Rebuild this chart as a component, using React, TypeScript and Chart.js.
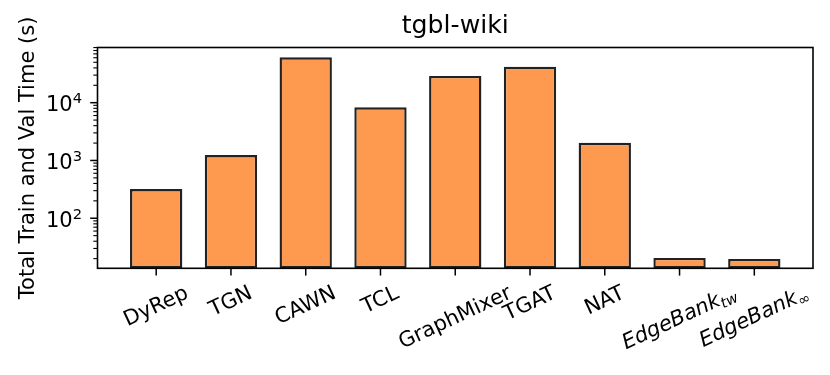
import { useEffect, useRef } from 'react';
import { Chart, registerables } from 'chart.js';

Chart.register(...registerables);

// ---- data ----
const categories = ['DyRep', 'TGN', 'CAWN', 'TCL', 'GraphMixer', 'TGAT', 'NAT', 'EdgeBank_{tw}', 'EdgeBank_{∞}'];
const times = [321, 1240, 61000, 8300, 29000, 42000, 2020, 20.6, 19.8];
const yMajorTicks = [100, 1000, 10000];
const yMajorExponents = ['2', '3', '4'];
const yMinorMantissas = [2, 3, 4, 5, 6, 7, 8, 9];
const yMinorDecades = [10, 100, 1000, 10000];
const yMin = 13.6;
const yMax = 90200;
const chartTitle = 'tgbl-wiki';
const yAxisTitle = 'Total Train and Val Time (s)';

const FONT = '"DejaVu Sans", "Liberation Sans", sans-serif';
const BASE = 21;

type Part = { text: string; size: number; italic: boolean; dy: number };

function parseLabel(label: string): Part[] {
  const m = label.match(/^(.*)_\{(.*)\}$/);
  if (m) {
    const sub = m[2];
    const subItalic = /[a-zA-Z]/.test(sub);
    return [
      { text: m[1], size: BASE, italic: true, dy: 0 },
      { text: sub, size: BASE * 0.7, italic: subItalic, dy: 4 },
    ];
  }
  return [{ text: label, size: BASE, italic: false, dy: 0 }];
}

const mplAxes = {
  id: 'mplAxes',
  afterDraw(chart: any) {
    const { ctx, chartArea: a, scales } = chart;
    const xs = scales.x;
    const ys = scales.y;
    ctx.save();
    ctx.strokeStyle = '#000';
    ctx.fillStyle = '#000';

    // frame
    ctx.lineWidth = 1.6;
    ctx.strokeRect(a.left, a.top, a.right - a.left, a.bottom - a.top);

    const majorLen = 7.3;
    const minorLen = 4.2;
    // x ticks
    ctx.lineWidth = 1.5;
    categories.forEach((_, i) => {
      const px = xs.getPixelForValue(i);
      ctx.beginPath();
      ctx.moveTo(px, a.bottom);
      ctx.lineTo(px, a.bottom + majorLen);
      ctx.stroke();
    });

    // y major ticks
    yMajorTicks.forEach((v) => {
      const py = ys.getPixelForValue(v);
      ctx.beginPath();
      ctx.moveTo(a.left, py);
      ctx.lineTo(a.left - majorLen, py);
      ctx.stroke();
    });
    // y minor ticks
    ctx.lineWidth = 1.1;
    yMinorDecades.forEach((d) => {
      yMinorMantissas.forEach((m) => {
        const v = m * d;
        if (v < yMin || v > yMax) return;
        const py = ys.getPixelForValue(v);
        ctx.beginPath();
        ctx.moveTo(a.left, py);
        ctx.lineTo(a.left - minorLen, py);
        ctx.stroke();
      });
    });

    // y tick labels 10^n
    ctx.textBaseline = 'alphabetic';
    yMajorTicks.forEach((v, i) => {
      const py = ys.getPixelForValue(v);
      const right = a.left - 15.5;
      ctx.font = `${BASE * 0.7}px ${FONT}`;
      const ew = ctx.measureText(yMajorExponents[i]).width;
      ctx.textAlign = 'left';
      ctx.fillText(yMajorExponents[i], right - ew, py + 0.6);
      ctx.font = `${BASE}px ${FONT}`;
      ctx.textAlign = 'right';
      ctx.fillText('10', right - ew, py + 8.3);
    });

    // x tick labels, rotated, bbox centered at tick, top aligned
    const theta = (25 * Math.PI) / 180;
    const y0 = a.bottom + majorLen + 7.3;
    categories.forEach((label, i) => {
      const parts = parseLabel(label);
      let w = 0;
      const widths: number[] = [];
      parts.forEach((p) => {
        ctx.font = `${p.italic ? 'italic ' : ''}${p.size}px ${FONT}`;
        const mw = ctx.measureText(p.text).width;
        widths.push(mw);
        w += mw;
      });
      const asc = BASE * 0.76;
      const desc = BASE * 0.24;
      const h = asc + desc;
      const H = w * Math.sin(theta) + h * Math.cos(theta);
      const cx = xs.getPixelForValue(i);
      const cy = y0 + H / 2;
      ctx.save();
      ctx.translate(cx, cy);
      ctx.rotate(-theta);
      ctx.textAlign = 'left';
      let x = -w / 2;
      const base = -h / 2 + asc;
      parts.forEach((p, k) => {
        ctx.font = `${p.italic ? 'italic ' : ''}${p.size}px ${FONT}`;
        ctx.fillText(p.text, x, base + p.dy);
        x += widths[k];
      });
      ctx.restore();
    });

    // title
    ctx.font = `${BASE * 1.2}px ${FONT}`;
    ctx.textAlign = 'center';
    ctx.textBaseline = 'alphabetic';
    ctx.fillText(chartTitle, (a.left + a.right) / 2, 33);

    // y axis title
    ctx.save();
    ctx.translate(34, (a.top + a.bottom) / 2);
    ctx.rotate(-Math.PI / 2);
    ctx.font = `${BASE}px ${FONT}`;
    ctx.textAlign = 'center';
    ctx.fillText(yAxisTitle, 0, 0);
    ctx.restore();

    ctx.restore();
  },
};

export default function App() {
  const ref = useRef<HTMLCanvasElement | null>(null);
  useEffect(() => {
    document.body.style.margin = '0';
    const canvas = ref.current;
    if (!canvas) return;
    const chart = new Chart(canvas, {
      type: 'bar',
      data: {
        datasets: [
          {
            data: times.map((v, i) => ({ x: i, y: v })),
            backgroundColor: '#fd9a50',
            borderColor: '#222222',
            borderWidth: 2.4,
            borderSkipped: false,
            barPercentage: 0.7,
            categoryPercentage: 1.0,
          },
        ],
      },
      options: {
        responsive: false,
        animation: false,
        devicePixelRatio: 1,
        layout: { padding: { left: 97.5, right: 17, top: 47.5, bottom: 106.7 } },
        plugins: { legend: { display: false }, tooltip: { enabled: false }, title: { display: false } },
        scales: {
          x: {
            type: 'linear',
            min: -0.785,
            max: 8.785,
            offset: false,
            display: false,
            afterBuildTicks: (scale: any) => {
              scale.ticks = categories.map((_, i) => ({ value: i }));
            },
          },
          y: { type: 'logarithmic', min: yMin, max: yMax, display: false },
        },
      },
      plugins: [mplAxes],
    });
    return () => chart.destroy();
  }, []);
  return (
    <div style={{ position: 'absolute', left: 0, top: 0, width: 830, height: 375, background: '#fff' }}>
      <canvas ref={ref} width={830} height={375} style={{ width: 830, height: 375, display: 'block' }} />
    </div>
  );
}
